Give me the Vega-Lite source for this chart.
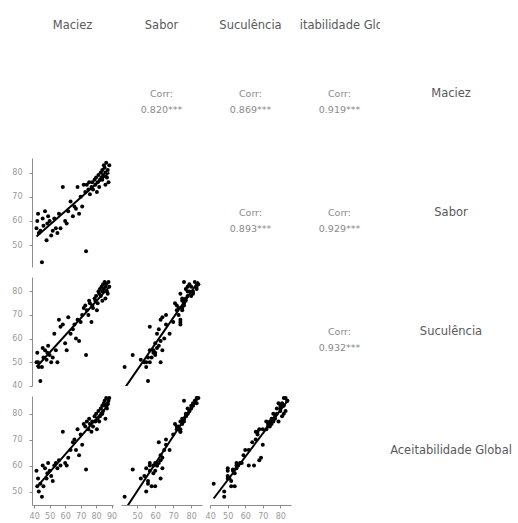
{
  "$schema": "https://vega.github.io/schema/vega-lite/v6.json",
  "background": "white",
  "padding": {"left": 11, "top": 11, "right": 2, "bottom": 0},
  "config": {
    "view": {"stroke": null},
    "font": "DejaVu Sans",
    "axis": {"grid": false, "domainColor": "#8c8c8c", "tickColor": "#8c8c8c", "labelColor": "#999999", "labelFontSize": 8, "labelFont": "DejaVu Sans", "tickSize": 3, "labelFlush": false, "labelOverlap": false}
  },
  "datasets": {
    "vars": [
      {"v": "Maciez"}, {"v": "Sabor"}, {"v": "Suculência"}, {"v": "Aceitabilidade Global"}
    ],
    "corr": [
      {"pair": "M-S", "label": "Corr:\n0.820***"},
      {"pair": "M-U", "label": "Corr:\n0.869***"},
      {"pair": "M-A", "label": "Corr:\n0.919***"},
      {"pair": "S-U", "label": "Corr:\n0.893***"},
      {"pair": "S-A", "label": "Corr:\n0.929***"},
      {"pair": "U-A", "label": "Corr:\n0.932***"}
    ],
    "obs": [
      {"Maciez": 41.5, "Sabor": 57, "Suculencia": 50, "Aceitabilidade": 58},
      {"Maciez": 42, "Sabor": 60, "Suculencia": 54, "Aceitabilidade": 52},
      {"Maciez": 42.5, "Sabor": 63, "Suculencia": 50, "Aceitabilidade": 55},
      {"Maciez": 43, "Sabor": 55, "Suculencia": 48, "Aceitabilidade": 50},
      {"Maciez": 44, "Sabor": 56, "Suculencia": 42, "Aceitabilidade": 53},
      {"Maciez": 45, "Sabor": 43, "Suculencia": 48, "Aceitabilidade": 48},
      {"Maciez": 45.5, "Sabor": 61, "Suculencia": 56, "Aceitabilidade": 60},
      {"Maciez": 46, "Sabor": 58, "Suculencia": 52, "Aceitabilidade": 52},
      {"Maciez": 47, "Sabor": 64, "Suculencia": 55, "Aceitabilidade": 59},
      {"Maciez": 48, "Sabor": 52, "Suculencia": 51, "Aceitabilidade": 55},
      {"Maciez": 48.5, "Sabor": 59, "Suculencia": 54, "Aceitabilidade": 57},
      {"Maciez": 49, "Sabor": 62, "Suculencia": 57, "Aceitabilidade": 61},
      {"Maciez": 50, "Sabor": 60, "Suculencia": 53, "Aceitabilidade": 58},
      {"Maciez": 51, "Sabor": 54, "Suculencia": 50, "Aceitabilidade": 56},
      {"Maciez": 52, "Sabor": 56, "Suculencia": 52, "Aceitabilidade": 54},
      {"Maciez": 53, "Sabor": 61, "Suculencia": 62, "Aceitabilidade": 60},
      {"Maciez": 54, "Sabor": 57, "Suculencia": 55, "Aceitabilidade": 61},
      {"Maciez": 55, "Sabor": 55, "Suculencia": 50, "Aceitabilidade": 59},
      {"Maciez": 56, "Sabor": 63, "Suculencia": 68, "Aceitabilidade": 62},
      {"Maciez": 57, "Sabor": 57, "Suculencia": 65, "Aceitabilidade": 60},
      {"Maciez": 58.5, "Sabor": 74, "Suculencia": 66, "Aceitabilidade": 73},
      {"Maciez": 60, "Sabor": 60, "Suculencia": 58, "Aceitabilidade": 61},
      {"Maciez": 61, "Sabor": 59, "Suculencia": 55, "Aceitabilidade": 60},
      {"Maciez": 62, "Sabor": 64, "Suculencia": 69, "Aceitabilidade": 63},
      {"Maciez": 63.5, "Sabor": 68, "Suculencia": 62, "Aceitabilidade": 66},
      {"Maciez": 65, "Sabor": 62, "Suculencia": 64, "Aceitabilidade": 69},
      {"Maciez": 66, "Sabor": 66, "Suculencia": 66, "Aceitabilidade": 70},
      {"Maciez": 67, "Sabor": 65, "Suculencia": 60, "Aceitabilidade": 66},
      {"Maciez": 68, "Sabor": 74, "Suculencia": 68, "Aceitabilidade": 74},
      {"Maciez": 69, "Sabor": 63, "Suculencia": 59, "Aceitabilidade": 64},
      {"Maciez": 70, "Sabor": 70, "Suculencia": 67, "Aceitabilidade": 72},
      {"Maciez": 71, "Sabor": 66, "Suculencia": 70, "Aceitabilidade": 68},
      {"Maciez": 73.5, "Sabor": 47.5, "Suculencia": 53, "Aceitabilidade": 58.5},
      {"Maciez": 72, "Sabor": 75, "Suculencia": 73, "Aceitabilidade": 76},
      {"Maciez": 73, "Sabor": 72, "Suculencia": 74, "Aceitabilidade": 75},
      {"Maciez": 74, "Sabor": 75, "Suculencia": 72, "Aceitabilidade": 77},
      {"Maciez": 75, "Sabor": 73, "Suculencia": 70, "Aceitabilidade": 74},
      {"Maciez": 75.5, "Sabor": 76, "Suculencia": 76, "Aceitabilidade": 78},
      {"Maciez": 76, "Sabor": 71, "Suculencia": 75, "Aceitabilidade": 76},
      {"Maciez": 77, "Sabor": 74, "Suculencia": 67, "Aceitabilidade": 73},
      {"Maciez": 77.5, "Sabor": 76, "Suculencia": 74, "Aceitabilidade": 77},
      {"Maciez": 78, "Sabor": 73, "Suculencia": 73, "Aceitabilidade": 75},
      {"Maciez": 79, "Sabor": 77, "Suculencia": 77, "Aceitabilidade": 79},
      {"Maciez": 79.5, "Sabor": 75, "Suculencia": 76, "Aceitabilidade": 77},
      {"Maciez": 80, "Sabor": 78, "Suculencia": 78, "Aceitabilidade": 80},
      {"Maciez": 80.5, "Sabor": 72, "Suculencia": 72, "Aceitabilidade": 74},
      {"Maciez": 81, "Sabor": 76, "Suculencia": 75, "Aceitabilidade": 78},
      {"Maciez": 81.5, "Sabor": 79, "Suculencia": 80, "Aceitabilidade": 81},
      {"Maciez": 82, "Sabor": 74, "Suculencia": 79, "Aceitabilidade": 77},
      {"Maciez": 82.5, "Sabor": 77, "Suculencia": 81, "Aceitabilidade": 79},
      {"Maciez": 83, "Sabor": 80, "Suculencia": 78, "Aceitabilidade": 82},
      {"Maciez": 83.5, "Sabor": 78, "Suculencia": 82, "Aceitabilidade": 80},
      {"Maciez": 84, "Sabor": 81, "Suculencia": 80, "Aceitabilidade": 83},
      {"Maciez": 84.5, "Sabor": 79, "Suculencia": 83, "Aceitabilidade": 81},
      {"Maciez": 85, "Sabor": 83, "Suculencia": 81, "Aceitabilidade": 84},
      {"Maciez": 85.5, "Sabor": 82, "Suculencia": 84, "Aceitabilidade": 85},
      {"Maciez": 86, "Sabor": 80, "Suculencia": 82, "Aceitabilidade": 83},
      {"Maciez": 86.5, "Sabor": 84, "Suculencia": 83, "Aceitabilidade": 86},
      {"Maciez": 87, "Sabor": 78, "Suculencia": 80, "Aceitabilidade": 82},
      {"Maciez": 87.5, "Sabor": 81, "Suculencia": 79, "Aceitabilidade": 84},
      {"Maciez": 88, "Sabor": 76, "Suculencia": 84, "Aceitabilidade": 85},
      {"Maciez": 88.5, "Sabor": 83, "Suculencia": 82, "Aceitabilidade": 86},
      {"Maciez": 86, "Sabor": 75, "Suculencia": 77, "Aceitabilidade": 78},
      {"Maciez": 84, "Sabor": 77, "Suculencia": 76, "Aceitabilidade": 80}
    ]
  },
  "columns": 5,
  "spacing": {"row": 10, "column": 8},
  "bounds": "flush",
  "align": "each",
  "concat": [
    {"width": 81, "height": 18, "data": {"name": "vars"}, "transform": [{"filter": "datum.v == 'Maciez'"}],
     "mark": {"type": "text", "clip": true, "baseline": "alphabetic", "fontSize": 11.5, "color": "#595959"},
     "encoding": {"text": {"field": "v"}, "y": {"datum": 0, "type": "quantitative", "scale": {"domain": [0, 1]}, "axis": null}}},
    {"width": 81, "height": 18, "data": {"name": "vars"}, "transform": [{"filter": "datum.v == 'Sabor'"}],
     "mark": {"type": "text", "clip": true, "baseline": "alphabetic", "fontSize": 11.5, "color": "#595959"},
     "encoding": {"text": {"field": "v"}, "y": {"datum": 0, "type": "quantitative", "scale": {"domain": [0, 1]}, "axis": null}}},
    {"width": 81, "height": 18, "data": {"name": "vars"}, "transform": [{"filter": "datum.v == 'Suculência'"}],
     "mark": {"type": "text", "clip": true, "baseline": "alphabetic", "fontSize": 11.5, "color": "#595959"},
     "encoding": {"text": {"field": "v"}, "y": {"datum": 0, "type": "quantitative", "scale": {"domain": [0, 1]}, "axis": null}}},
    {"width": 81, "height": 18, "data": {"name": "vars"}, "transform": [{"filter": "datum.v == 'Aceitabilidade Global'"}],
     "mark": {"type": "text", "clip": true, "baseline": "alphabetic", "fontSize": 11.5, "color": "#595959"},
     "encoding": {"text": {"field": "v"}, "y": {"datum": 0, "type": "quantitative", "scale": {"domain": [0, 1]}, "axis": null}}},
    {"width": 126, "height": 18, "data": {"values": [{}]}, "mark": {"type": "text", "text": ""}, "encoding": {}},

    {"width": 81, "height": 109, "data": {"values": [{}]}, "mark": {"type": "text", "text": ""}, "encoding": {}},
    {"width": 81, "height": 109, "data": {"name": "corr"}, "transform": [{"filter": "datum.pair == 'M-S'"}],
     "mark": {"type": "text", "lineBreak": "\n", "lineHeight": 16, "fontSize": 9.5, "color": "#8a8a8a"}, "encoding": {"text": {"field": "label"}}},
    {"width": 81, "height": 109, "data": {"name": "corr"}, "transform": [{"filter": "datum.pair == 'M-U'"}],
     "mark": {"type": "text", "lineBreak": "\n", "lineHeight": 16, "fontSize": 9.5, "color": "#8a8a8a"}, "encoding": {"text": {"field": "label"}}},
    {"width": 81, "height": 109, "data": {"name": "corr"}, "transform": [{"filter": "datum.pair == 'M-A'"}],
     "mark": {"type": "text", "lineBreak": "\n", "lineHeight": 16, "fontSize": 9.5, "color": "#8a8a8a"}, "encoding": {"text": {"field": "label"}}},
    {"width": 126, "height": 109, "data": {"name": "vars"}, "transform": [{"filter": "datum.v == 'Maciez'"}],
     "mark": {"type": "text", "fontSize": 11.5, "color": "#595959"}, "encoding": {"text": {"field": "v"}}},

    {"width": 81, "height": 109, "data": {"name": "obs"},
     "encoding": {
       "x": {"field": "Maciez", "type": "quantitative", "scale": {"domain": [38.6, 90.9], "nice": false, "zero": false}, "axis": null},
       "y": {"field": "Sabor", "type": "quantitative", "scale": {"domain": [41.0, 86.0], "nice": false, "zero": false}, "axis": {"values": [50, 60, 70, 80], "title": null, "format": "d", "labelPadding": 7}}
     },
     "layer": [
       {"mark": {"type": "point", "filled": true, "size": 16, "color": "black", "opacity": 1}},
       {"transform": [{"regression": "Sabor", "on": "Maciez"}], "mark": {"type": "line", "color": "black", "strokeWidth": 2, "clip": true}}
     ]},
    {"width": 81, "height": 109, "data": {"values": [{}]}, "mark": {"type": "text", "text": ""}, "encoding": {}},
    {"width": 81, "height": 109, "data": {"name": "corr"}, "transform": [{"filter": "datum.pair == 'S-U'"}],
     "mark": {"type": "text", "lineBreak": "\n", "lineHeight": 16, "fontSize": 9.5, "color": "#8a8a8a"}, "encoding": {"text": {"field": "label"}}},
    {"width": 81, "height": 109, "data": {"name": "corr"}, "transform": [{"filter": "datum.pair == 'S-A'"}],
     "mark": {"type": "text", "lineBreak": "\n", "lineHeight": 16, "fontSize": 9.5, "color": "#8a8a8a"}, "encoding": {"text": {"field": "label"}}},
    {"width": 126, "height": 109, "data": {"name": "vars"}, "transform": [{"filter": "datum.v == 'Sabor'"}],
     "mark": {"type": "text", "fontSize": 11.5, "color": "#595959"}, "encoding": {"text": {"field": "v"}}},

    {"width": 81, "height": 109, "data": {"name": "obs"},
     "encoding": {
       "x": {"field": "Maciez", "type": "quantitative", "scale": {"domain": [38.6, 90.9], "nice": false, "zero": false}, "axis": null},
       "y": {"field": "Suculencia", "type": "quantitative", "scale": {"domain": [39.9, 86.1], "nice": false, "zero": false}, "axis": {"values": [40, 50, 60, 70, 80], "title": null, "format": "d", "labelPadding": 7}}
     },
     "layer": [
       {"mark": {"type": "point", "filled": true, "size": 16, "color": "black", "opacity": 1}},
       {"transform": [{"regression": "Suculencia", "on": "Maciez"}], "mark": {"type": "line", "color": "black", "strokeWidth": 2, "clip": true}}
     ]},
    {"width": 81, "height": 109, "data": {"name": "obs"},
     "encoding": {
       "x": {"field": "Sabor", "type": "quantitative", "scale": {"domain": [41.0, 86.0], "nice": false, "zero": false}, "axis": null},
       "y": {"field": "Suculencia", "type": "quantitative", "scale": {"domain": [39.9, 86.1], "nice": false, "zero": false}, "axis": null}
     },
     "layer": [
       {"mark": {"type": "point", "filled": true, "size": 16, "color": "black", "opacity": 1}},
       {"transform": [{"regression": "Suculencia", "on": "Sabor"}], "mark": {"type": "line", "color": "black", "strokeWidth": 2, "clip": true}}
     ]},
    {"width": 81, "height": 109, "data": {"values": [{}]}, "mark": {"type": "text", "text": ""}, "encoding": {}},
    {"width": 81, "height": 109, "data": {"name": "corr"}, "transform": [{"filter": "datum.pair == 'U-A'"}],
     "mark": {"type": "text", "lineBreak": "\n", "lineHeight": 16, "fontSize": 9.5, "color": "#8a8a8a"}, "encoding": {"text": {"field": "label"}}},
    {"width": 126, "height": 109, "data": {"name": "vars"}, "transform": [{"filter": "datum.v == 'Suculência'"}],
     "mark": {"type": "text", "fontSize": 11.5, "color": "#595959"}, "encoding": {"text": {"field": "v"}}},

    {"width": 81, "height": 109, "data": {"name": "obs"},
     "encoding": {
       "x": {"field": "Maciez", "type": "quantitative", "scale": {"domain": [38.6, 90.9], "nice": false, "zero": false}, "axis": {"values": [40, 50, 60, 70, 80, 90], "title": null, "format": "d", "labelPadding": 4}},
       "y": {"field": "Aceitabilidade", "type": "quantitative", "scale": {"domain": [44.8, 86.8], "nice": false, "zero": false}, "axis": {"values": [50, 60, 70, 80], "title": null, "format": "d", "labelPadding": 7}}
     },
     "layer": [
       {"mark": {"type": "point", "filled": true, "size": 16, "color": "black", "opacity": 1}},
       {"transform": [{"regression": "Aceitabilidade", "on": "Maciez"}], "mark": {"type": "line", "color": "black", "strokeWidth": 2, "clip": true}}
     ]},
    {"width": 81, "height": 109, "data": {"name": "obs"},
     "encoding": {
       "x": {"field": "Sabor", "type": "quantitative", "scale": {"domain": [41.0, 86.0], "nice": false, "zero": false}, "axis": {"values": [50, 60, 70, 80], "title": null, "format": "d", "labelPadding": 4}},
       "y": {"field": "Aceitabilidade", "type": "quantitative", "scale": {"domain": [44.8, 86.8], "nice": false, "zero": false}, "axis": null}
     },
     "layer": [
       {"mark": {"type": "point", "filled": true, "size": 16, "color": "black", "opacity": 1}},
       {"transform": [{"regression": "Aceitabilidade", "on": "Sabor"}], "mark": {"type": "line", "color": "black", "strokeWidth": 2, "clip": true}}
     ]},
    {"width": 81, "height": 109, "data": {"name": "obs"},
     "encoding": {
       "x": {"field": "Suculencia", "type": "quantitative", "scale": {"domain": [39.9, 86.1], "nice": false, "zero": false}, "axis": {"values": [40, 50, 60, 70, 80], "title": null, "format": "d", "labelPadding": 4}},
       "y": {"field": "Aceitabilidade", "type": "quantitative", "scale": {"domain": [44.8, 86.8], "nice": false, "zero": false}, "axis": null}
     },
     "layer": [
       {"mark": {"type": "point", "filled": true, "size": 16, "color": "black", "opacity": 1}},
       {"transform": [{"regression": "Aceitabilidade", "on": "Suculencia"}], "mark": {"type": "line", "color": "black", "strokeWidth": 2, "clip": true}}
     ]},
    {"width": 81, "height": 109, "data": {"values": [{}]}, "mark": {"type": "text", "text": ""}, "encoding": {}},
    {"width": 126, "height": 109, "data": {"name": "vars"}, "transform": [{"filter": "datum.v == 'Aceitabilidade Global'"}],
     "mark": {"type": "text", "fontSize": 11.5, "color": "#595959"}, "encoding": {"text": {"field": "v"}}}
  ]
}
